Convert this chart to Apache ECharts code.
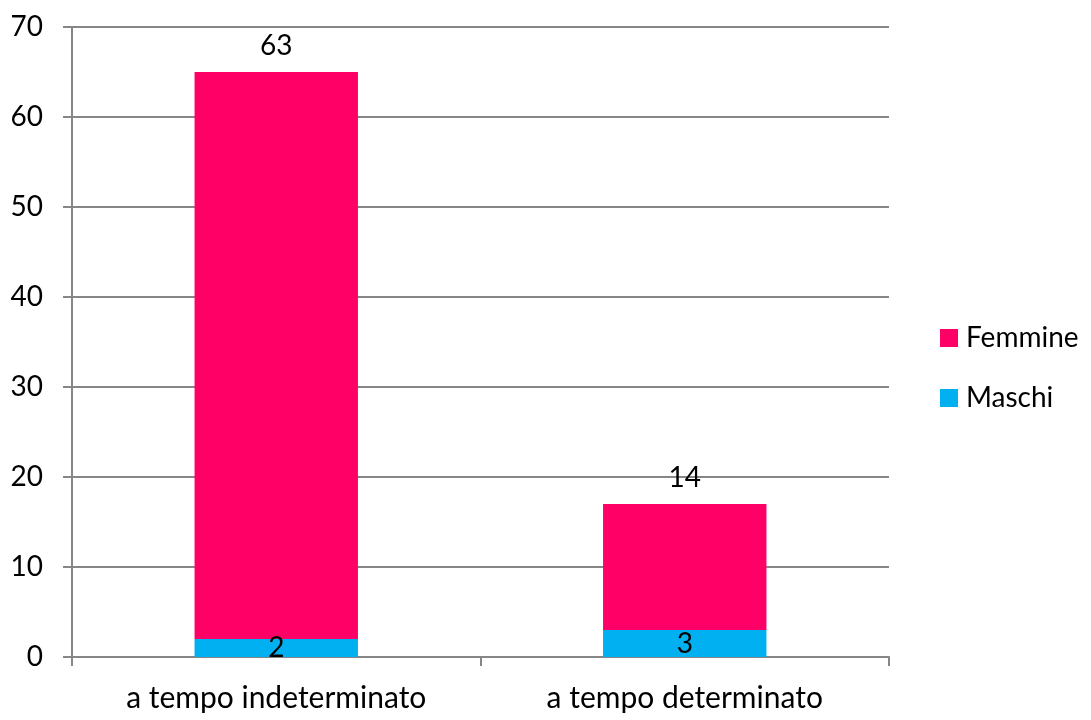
<!DOCTYPE html>
<html>
<head>
<meta charset="utf-8">
<script src="https://cdn.jsdelivr.net/npm/echarts@6/dist/echarts.min.js"></script>
<style>
  html, body { margin: 0; padding: 0; background: #fff; }
  #chart { width: 1091px; height: 720px; }
</style>
</head>
<body>
<div id="chart"></div>
<script>
// Contract type categories and headcount per gender
const categories = ['a tempo indeterminato', 'a tempo determinato'];
const maschi = [2, 3];
const femmine = [63, 14];
const yTicks = { min: 0, max: 70, interval: 10 };

const FONT = 'Lato, "Open Sans", sans-serif';
const GRID_GREY = '#868686';

const chart = echarts.init(document.getElementById('chart'), null, { renderer: 'canvas' });

chart.setOption({
  animation: false,
  backgroundColor: '#ffffff',
  textStyle: { fontFamily: FONT },
  grid: { left: 72, right: 202, top: 27, bottom: 63, containLabel: false },
  legend: {
    orient: 'vertical',
    left: 935,
    top: 319,
    itemWidth: 18,
    itemHeight: 18,
    itemGap: 32,
    icon: 'rect',
    data: ['Femmine', 'Maschi'],
    textStyle: { fontFamily: FONT, fontSize: 28, color: '#000', padding: [0, 0, 0, 3] }
  },
  xAxis: {
    type: 'category',
    data: categories,
    boundaryGap: true,
    axisLine: { show: true, lineStyle: { color: GRID_GREY, width: 2 } },
    axisTick: { show: true, length: 9, inside: false, lineStyle: { color: GRID_GREY, width: 2 } },
    axisLabel: { fontFamily: FONT, fontSize: 30, color: '#000', margin: 26 }
  },
  yAxis: {
    type: 'value',
    min: yTicks.min,
    max: yTicks.max,
    interval: yTicks.interval,
    axisLine: { show: true, lineStyle: { color: GRID_GREY, width: 2 } },
    axisTick: { show: true, length: 9, lineStyle: { color: GRID_GREY, width: 2 } },
    axisLabel: { fontFamily: FONT, fontSize: 28, color: '#000', margin: 29 },
    splitLine: { show: true, lineStyle: { color: GRID_GREY, width: 2 } }
  },
  series: [
    {
      name: 'Maschi',
      type: 'bar',
      stack: 'totale',
      data: maschi,
      barWidth: '40%',
      itemStyle: { color: '#00B0F0' },
      label: {
        show: true,
        position: 'inside',
        color: '#000',
        fontFamily: FONT,
        fontSize: 28
      }
    },
    {
      name: 'Femmine',
      type: 'bar',
      stack: 'totale',
      data: femmine,
      barWidth: '40%',
      itemStyle: { color: '#FF0066' },
      label: {
        show: true,
        position: 'top',
        distance: 12,
        color: '#000',
        fontFamily: FONT,
        fontSize: 28
      }
    }
  ]
});
</script>
</body>
</html>
